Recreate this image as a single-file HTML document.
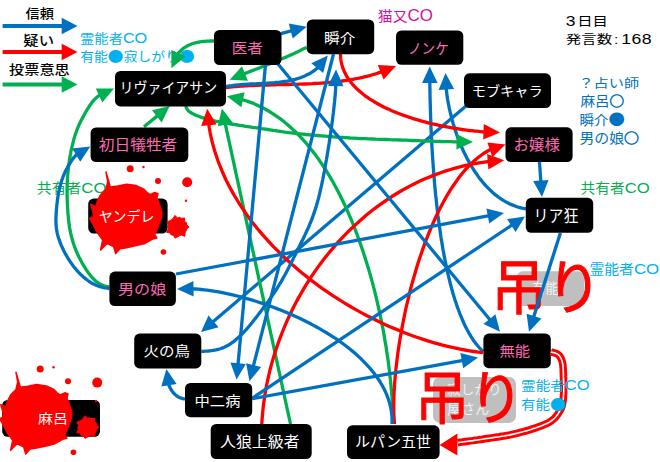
<!DOCTYPE html><html lang="ja"><head><meta charset="utf-8"><title>diagram</title><style>html,body{margin:0;padding:0;background:#fff}svg{display:block}text{font-family:"Liberation Sans","Noto Sans CJK JP",sans-serif}</style></head><body>
<svg width="660" height="462" viewBox="0 0 660 462">
<rect width="660" height="462" fill="#fff"/>
<text transform="translate(25.60,17.73) scale(0.8906,0.7879)" font-size="16" font-weight="500" fill="#000">信頼</text>
<text transform="translate(23.34,45.43) scale(0.9567,0.7879)" font-size="16" font-weight="500" fill="#000">疑い</text>
<text transform="translate(9.10,73.63) scale(0.9492,0.7879)" font-size="16" font-weight="500" fill="#000">投票意思</text>
<text transform="translate(80.11,42.63) scale(0.8919,0.7879)" font-size="16" font-weight="400" fill="#00B0F0">霊能者<tspan font-size="18.2">CO</tspan></text>
<text transform="translate(80.13,60.63) scale(0.8664,0.7879)" font-size="16" font-weight="400" fill="#00B0F0">有能<tspan font-family="Noto Sans CJK JP, sans-serif" font-size="18" dy="0.4">●</tspan><tspan dy="-0.4" font-size="1"> </tspan>寂しがり<tspan font-family="Noto Sans CJK JP, sans-serif" font-size="18" dy="0.4">●</tspan><tspan dy="-0.4" font-size="1"> </tspan></text>
<text transform="translate(377.77,21.36) scale(0.9310,0.8606)" font-size="16" font-weight="400" fill="#D010A0">猫又<tspan font-size="18.2">CO</tspan></text>
<text transform="translate(565.84,25.64) scale(0.9600,0.7806)" font-size="16" font-weight="400" fill="#000"><tspan font-size="18.3">3</tspan><tspan dx="1.6">日目</tspan></text>
<text transform="translate(565.83,43.88) scale(0.9678,0.7636)" font-size="16" font-weight="400" fill="#000">発言数<tspan dx="1.8">:</tspan><tspan dx="3" font-size="18.3" letter-spacing="0.4">168</tspan></text>
<text transform="translate(578.40,87.78) scale(0.9500,0.7636)" font-size="16" font-weight="400" fill="#0070C0">？占い師</text>
<text transform="translate(580.40,106.16) scale(0.9083,0.8182)" font-size="16" font-weight="400" fill="#0070C0">麻呂<tspan font-family="Noto Sans CJK JP, sans-serif" stroke="#0070C0" stroke-width="0.7">○</tspan></text>
<text transform="translate(579.49,124.92) scale(0.9083,0.8364)" font-size="16" font-weight="400" fill="#0070C0">瞬介<tspan font-family="Noto Sans CJK JP, sans-serif" font-size="18" dy="0.4">●</tspan><tspan dy="-0.4" font-size="1"> </tspan></text>
<text transform="translate(579.47,143.09) scale(0.9302,0.8485)" font-size="16" font-weight="400" fill="#0070C0">男の娘<tspan font-family="Noto Sans CJK JP, sans-serif" stroke="#0070C0" stroke-width="0.7">○</tspan></text>
<text transform="translate(36.87,192.59) scale(0.9270,0.8485)" font-size="16" font-weight="400" fill="#00B050">共有者<tspan font-size="18.2">CO</tspan></text>
<text transform="translate(580.48,193.09) scale(0.9216,0.8485)" font-size="16" font-weight="400" fill="#00B050">共有者<tspan font-size="18.2">CO</tspan></text>
<text transform="translate(589.47,274.13) scale(0.9270,0.8303)" font-size="16" font-weight="400" fill="#00B0F0">霊能者<tspan font-size="18.2">CO</tspan></text>
<rect x="516.8" y="271.3" width="67.4" height="34.7" rx="6" fill="#BFBFBF"/>
<rect x="433" y="376.9" width="83" height="46" rx="7" fill="#BFBFBF"/>
<text transform="translate(532.16,293.02) scale(0.8387,0.8788)" font-size="16" font-weight="400" fill="#F0F0F0">有能</text>
<text transform="translate(447.15,394.20) scale(0.8500,0.8000)" font-size="16" font-weight="400" fill="#F0F0F0">寂しがり</text>
<text transform="translate(447.12,414.30) scale(0.8804,0.8828)" font-size="16" font-weight="400" fill="#F0F0F0">屋さん</text>
<text transform="translate(491.43,308.61) scale(0.9817,1.0646)" font-size="56" font-weight="400" fill="#FF0000" stroke="#FF0000" stroke-width="1">吊り</text>
<text transform="translate(415.26,419.04) scale(0.9634,1.0404)" font-size="56" font-weight="400" fill="#FF0000" stroke="#FF0000" stroke-width="1">吊り</text>
<rect x="2.6" y="24" width="60" height="4" fill="#0070C0"/><polygon points="77.5,26 61.7,17.8 61.7,34.2" fill="#0070C0"/>
<rect x="2.6" y="50" width="60" height="4" fill="#FF0000"/><polygon points="77.5,52 61.7,43.8 61.7,60.2" fill="#FF0000"/>
<rect x="2.6" y="82.5" width="60" height="4" fill="#00B050"/><polygon points="77.5,84.5 61.7,76.3 61.7,92.7" fill="#00B050"/>
<g id="edges">
<polyline points="466.0,106.0 212.4,322.3" fill="none" stroke="#0070C0" stroke-width="3.3" stroke-linejoin="round"/><polygon points="201.0,332.0 208.5,315.4 218.6,327.2" fill="#0070C0"/>
<polyline points="526.0,208.8 524.0,208.5 522.1,208.1 520.1,207.6 518.2,207.1 516.3,206.5 514.5,205.8 512.6,205.1 510.8,204.4 509.0,203.5 507.2,202.6 505.5,201.7 503.8,200.7 502.1,199.6 500.4,198.5 498.7,197.3 497.1,196.1 495.5,194.9 493.9,193.6 492.4,192.2 490.9,190.8 489.4,189.4 487.9,187.9 486.4,186.4 485.0,184.8 483.6,183.2 482.2,181.5 480.9,179.9 479.5,178.2 478.2,176.4 477.0,174.6 475.7,172.8 474.5,171.0 473.3,169.1 472.1,167.2 470.9,165.3 469.8,163.4 468.7,161.4 467.6,159.4 466.6,157.4 465.5,155.4 464.5,153.3 463.5,151.2 462.6,149.2 461.7,147.1 460.8,145.0 459.9,142.8 459.0,140.7 458.2,138.6 457.4,136.4 456.6,134.3 455.9,132.1 455.2,130.0 454.5,127.8 453.8,125.6 453.1,123.5 452.5,121.3 451.9,119.1 451.4,117.0 450.8,114.8 450.3,112.7 449.8,110.5 449.3,108.4 448.9,106.3 448.5,104.2 448.1,102.1 447.7,100.0 447.4,97.9 447.1,95.9 446.8,93.8 446.6,91.8 446.3,89.8 446.2,88.0" fill="none" stroke="#0070C0" stroke-width="3.3" stroke-linejoin="round"/><polygon points="445.5,73.0 454.1,89.1 438.6,89.9" fill="#0070C0"/>
<polyline points="483.0,351.5 481.2,349.7 479.4,347.8 477.7,345.8 476.0,343.7 474.3,341.5 472.7,339.2 471.1,336.7 469.6,334.2 468.1,331.5 466.6,328.8 465.2,326.0 463.8,323.0 462.5,320.0 461.2,316.9 459.9,313.8 458.7,310.5 457.4,307.2 456.3,303.8 455.1,300.3 454.0,296.8 452.9,293.2 451.9,289.5 450.9,285.8 449.9,282.0 449.0,278.1 448.0,274.2 447.1,270.3 446.3,266.3 445.5,262.3 444.6,258.2 443.9,254.1 443.1,250.0 442.4,245.8 441.7,241.6 441.0,237.4 440.4,233.2 439.8,228.9 439.2,224.6 438.6,220.3 438.0,216.0 437.5,211.7 437.0,207.4 436.5,203.0 436.1,198.7 435.6,194.4 435.2,190.1 434.8,185.8 434.4,181.5 434.1,177.2 433.7,172.9 433.4,168.6 433.1,164.4 432.8,160.2 432.5,156.0 432.3,151.9 432.0,147.8 431.8,143.7 431.6,139.7 431.4,135.7 431.2,131.7 431.0,127.8 430.9,124.0 430.7,120.2 430.6,116.4 430.5,112.8 430.4,109.1 430.3,105.6 430.2,102.1 430.1,98.7 430.0,95.3 430.0,92.1 429.9,88.9 429.9,85.8 429.8,82.7 429.8,81.5" fill="none" stroke="#0070C0" stroke-width="3.3" stroke-linejoin="round"/><polygon points="429.7,66.5 437.6,82.9 422.1,83.1" fill="#0070C0"/>
<polyline points="214.0,41.0 213.2,41.0 212.4,41.0 211.6,41.0 210.8,41.0 210.1,41.0 209.3,41.1 208.5,41.1 207.8,41.1 207.0,41.2 206.3,41.2 205.5,41.3 204.8,41.3 204.1,41.4 203.3,41.5 202.6,41.5 201.9,41.6 201.2,41.7 200.5,41.8 199.8,41.9 199.1,42.0 198.5,42.2 197.8,42.3 197.1,42.4 196.5,42.6 195.8,42.7 195.2,42.9 194.5,43.1 193.9,43.2 193.3,43.4 192.7,43.6 192.1,43.8 191.4,44.1 190.9,44.3 190.3,44.5 189.7,44.8 189.1,45.0 188.5,45.3 188.0,45.6 187.4,45.9 186.9,46.1 186.3,46.5 185.8,46.8 185.3,47.1 184.8,47.4 184.2,47.8 183.7,48.2 183.2,48.5 182.8,48.9 182.3,49.3 181.8,49.7 181.3,50.1 180.9,50.6 180.4,51.0 180.0,51.5 179.6,51.9 179.1,52.4 178.7,52.9 178.3,53.4 177.9,54.0 177.5,54.5 177.5,54.6" fill="none" stroke="#00B050" stroke-width="3.3" stroke-linejoin="round"/><polygon points="171.4,68.2 171.4,50.0 185.4,56.6" fill="#00B050"/>
<polyline points="306.7,47.2 305.8,47.7 304.8,48.2 303.9,48.6 303.0,49.1 302.0,49.6 301.1,50.1 300.2,50.5 299.2,51.0 298.3,51.4 297.3,51.9 296.4,52.3 295.5,52.8 294.5,53.2 293.6,53.7 292.6,54.1 291.7,54.5 290.7,55.0 289.7,55.4 288.8,55.8 287.8,56.2 286.9,56.7 285.9,57.1 285.0,57.5 284.0,57.9 283.0,58.3 282.1,58.7 281.1,59.1 280.2,59.5 279.2,59.9 278.2,60.3 277.3,60.7 276.3,61.1 275.3,61.5 274.4,61.9 273.4,62.3 272.4,62.7 271.4,63.1 270.5,63.5 269.5,63.9 268.5,64.2 267.6,64.6 266.6,65.0 265.6,65.4 264.6,65.8 263.7,66.2 262.7,66.5 261.7,66.9 260.7,67.3 259.8,67.7 258.8,68.1 257.8,68.5 256.8,68.8 255.9,69.2 254.9,69.6 253.9,70.0 253.0,70.4 252.0,70.7 251.0,71.1 250.0,71.5 249.1,71.9 248.1,72.3 247.1,72.7 246.1,73.0 245.2,73.4 244.2,73.8 243.6,74.1" fill="none" stroke="#00B050" stroke-width="3.3" stroke-linejoin="round"/><polygon points="229.7,79.8 242.0,66.3 247.9,80.7" fill="#00B050"/>
<polyline points="393.3,424.0 393.2,420.1 393.1,416.1 392.9,412.0 392.7,407.8 392.4,403.6 392.2,399.2 391.8,394.8 391.4,390.3 391.0,385.8 390.6,381.1 390.0,376.4 389.5,371.7 388.9,366.9 388.3,362.0 387.6,357.1 386.8,352.1 386.1,347.1 385.2,342.0 384.4,337.0 383.5,331.8 382.5,326.7 381.5,321.5 380.4,316.3 379.3,311.1 378.1,305.9 376.9,300.6 375.7,295.4 374.4,290.1 373.0,284.9 371.6,279.6 370.1,274.4 368.6,269.1 367.0,263.9 365.4,258.7 363.7,253.5 362.0,248.4 360.2,243.2 358.4,238.1 356.5,233.0 354.6,228.0 352.6,223.0 350.5,218.0 348.4,213.1 346.2,208.2 344.0,203.4 341.7,198.7 339.4,194.0 337.0,189.4 334.5,184.8 332.0,180.3 329.4,175.9 326.8,171.6 324.1,167.3 321.3,163.2 318.5,159.1 315.6,155.1 312.6,151.2 309.6,147.4 306.6,143.7 303.4,140.2 300.2,136.7 297.0,133.3 293.6,130.1 290.2,127.0 286.8,124.0 283.3,121.1 279.7,118.4 276.0,115.8 272.3,113.3 268.5,111.0 264.6,108.8 260.7,106.8 256.7,104.9 252.7,103.1 248.5,101.6 244.3,100.2 241.5,99.3" fill="none" stroke="#00B050" stroke-width="3.3" stroke-linejoin="round"/><polygon points="226.8,96.2 244.6,92.2 241.3,107.3" fill="#00B050"/>
<polyline points="185.6,106.0 185.7,106.3 185.9,106.5 186.0,106.9 186.1,107.2 186.3,107.6 186.5,108.0 186.7,108.4 186.9,108.8 187.2,109.3 187.5,109.7 187.8,110.1 188.2,110.6 188.6,111.0 189.1,111.4 189.6,111.8 190.1,112.2 190.7,112.5 191.4,112.9 192.0,113.3 192.7,113.7 193.5,114.1 194.3,114.4 195.1,114.8 195.9,115.2 196.7,115.5 197.6,115.9 198.5,116.2 199.4,116.6 200.4,116.9 201.3,117.3 202.3,117.6 203.3,117.9 204.3,118.2 205.3,118.5 206.4,118.9 207.5,119.2 208.6,119.5 209.8,119.8 211.1,120.1 212.4,120.4 213.7,120.7 215.1,121.0 216.5,121.3 218.0,121.6 219.6,121.9 221.2,122.2 222.8,122.5 224.5,122.8 226.2,123.1 228.0,123.4 229.8,123.8 231.6,124.1 233.5,124.4 235.4,124.7 237.3,125.0 239.3,125.3 241.3,125.6 243.4,125.9 245.5,126.3 247.7,126.6 250.0,126.9 252.2,127.3 254.5,127.6 256.8,127.9 259.1,128.2 261.3,128.6 263.5,128.9 265.7,129.2 267.8,129.5 269.8,129.8 271.7,130.1 273.6,130.4 275.3,130.6 276.9,130.9 278.5,131.1 280.0,131.4 281.6,131.7 283.3,131.9 285.0,132.2 286.9,132.4 289.0,132.7 291.2,132.9 293.7,133.2 296.4,133.5 299.4,133.8 302.6,134.1 306.1,134.5 309.8,134.8 313.6,135.2 317.5,135.5 321.6,135.8 325.7,136.2 329.8,136.5 334.0,136.9 338.1,137.2 342.1,137.4 346.0,137.7 349.9,138.0 353.7,138.2 357.4,138.4 361.1,138.6 364.8,138.7 368.5,138.9 372.2,139.0 375.8,139.2 379.4,139.3 383.0,139.4 386.5,139.5 389.9,139.7 393.3,139.8 396.6,139.9 399.9,140.0 403.1,140.1 406.2,140.2 409.3,140.4 412.3,140.5 415.2,140.6 418.1,140.7 421.0,140.8 423.8,140.9 426.6,141.1 429.3,141.2 432.0,141.2 434.7,141.3 437.4,141.4 440.0,141.5 442.7,141.6 445.4,141.6 448.1,141.7 450.9,141.7 453.6,141.8 456.3,141.8 458.0,141.8" fill="none" stroke="#00B050" stroke-width="3.3" stroke-linejoin="round"/><polygon points="473.0,142.0 456.4,149.6 456.6,134.1" fill="#00B050"/>
<polyline points="290.5,424.0 225.1,123.2" fill="none" stroke="#00B050" stroke-width="3.3" stroke-linejoin="round"/><polygon points="221.9,108.5 233.0,123.0 217.8,126.3" fill="#00B050"/>
<polyline points="144.0,126.7 158.0,115.4" fill="none" stroke="#00B050" stroke-width="3.3" stroke-linejoin="round"/><polygon points="169.7,106.0 161.7,122.4 152.0,110.3" fill="#00B050"/>
<polyline points="109.4,287.0 108.6,286.9 107.8,286.7 107.0,286.5 106.1,286.3 105.3,286.1 104.4,285.9 103.5,285.6 102.6,285.2 101.6,284.8 100.6,284.4 99.7,283.8 98.7,283.2 97.7,282.5 96.6,281.8 95.6,280.9 94.6,280.0 93.6,279.0 92.5,277.9 91.5,276.7 90.5,275.5 89.5,274.2 88.5,272.9 87.5,271.5 86.5,270.1 85.6,268.7 84.7,267.2 83.7,265.8 82.9,264.3 82.0,262.8 81.2,261.3 80.4,259.8 79.6,258.3 78.8,256.8 78.1,255.3 77.4,253.7 76.8,252.2 76.1,250.7 75.5,249.1 74.9,247.6 74.3,246.0 73.8,244.5 73.3,242.9 72.8,241.3 72.3,239.8 71.9,238.2 71.5,236.6 71.1,235.0 70.7,233.3 70.4,231.7 70.0,230.0 69.7,228.2 69.4,226.5 69.2,224.7 68.9,222.8 68.7,220.9 68.5,218.9 68.3,216.9 68.1,214.9 67.9,212.8 67.8,210.6 67.6,208.5 67.5,206.3 67.4,204.1 67.3,202.0 67.2,199.8 67.2,197.7 67.1,195.7 67.1,193.6 67.1,191.7 67.1,189.8 67.1,188.0 67.1,186.3 67.2,184.6 67.2,183.0 67.3,181.4 67.4,179.9 67.4,178.4 67.5,177.0 67.6,175.6 67.8,174.2 67.9,172.9 68.0,171.5 68.2,170.2 68.3,168.8 68.5,167.5 68.6,166.1 68.8,164.7 69.0,163.4 69.2,162.0 69.4,160.6 69.6,159.2 69.8,157.8 70.1,156.4 70.3,155.0 70.6,153.6 70.8,152.2 71.1,150.8 71.4,149.4 71.7,148.0 72.0,146.6 72.4,145.2 72.7,143.8 73.1,142.4 73.4,141.0 73.8,139.6 74.2,138.3 74.6,136.9 75.0,135.6 75.4,134.3 75.8,133.0 76.3,131.8 76.7,130.6 77.2,129.4 77.6,128.2 78.1,127.1 78.6,126.0 79.0,124.9 79.5,123.8 80.0,122.8 80.5,121.7 81.0,120.7 81.6,119.7 82.1,118.7 82.6,117.7 83.2,116.7 83.7,115.7 84.3,114.7 84.8,113.7 85.4,112.7 86.0,111.7 86.6,110.7 87.2,109.7 87.8,108.7 88.3,107.8 88.9,106.9 89.5,105.9 90.1,105.1 90.7,104.2 91.3,103.4 91.9,102.6 92.5,101.8 93.1,101.1 93.7,100.4 94.3,99.7 94.9,99.0 95.6,98.4 96.2,97.8 96.9,97.2 97.5,96.7 98.2,96.1 99.0,95.6 99.7,95.1 100.3,94.7" fill="none" stroke="#00B050" stroke-width="3.3" stroke-linejoin="round"/><polygon points="114.0,88.6 102.3,102.6 95.8,88.5" fill="#00B050"/>
<polyline points="225.7,87.5 227.8,87.3 229.9,87.1 232.1,86.9 234.2,86.7 236.3,86.5 238.5,86.3 240.6,86.2 242.7,86.0 244.9,85.9 247.0,85.8 249.2,85.7 251.3,85.6 253.5,85.5 255.7,85.4 257.8,85.3 260.0,85.2 262.2,85.1 264.3,85.1 266.5,85.0 268.7,85.0 270.8,84.9 273.0,84.8 275.2,84.8 277.4,84.7 279.5,84.7 281.7,84.6 283.9,84.6 286.1,84.5 288.2,84.5 290.4,84.4 292.6,84.4 294.8,84.3 297.0,84.3 299.1,84.2 301.3,84.1 303.5,84.0 305.7,84.0 307.8,83.9 310.0,83.8 312.2,83.7 314.3,83.5 316.5,83.4 318.7,83.3 320.8,83.1 323.0,83.0 325.1,82.8 327.3,82.6 329.4,82.4 331.6,82.2 333.7,82.0 335.9,81.8 338.0,81.5 340.2,81.3 342.3,81.0 344.4,80.7 346.6,80.4 348.7,80.0 350.8,79.7 352.9,79.3 355.0,78.9 357.1,78.5 359.2,78.1 361.3,77.6 363.4,77.1 365.5,76.6 367.6,76.1 369.6,75.6 371.7,75.0 373.8,74.4 375.8,73.8 377.9,73.1 379.9,72.4 381.9,71.7 382.1,71.7" fill="none" stroke="#FF0000" stroke-width="3.3" stroke-linejoin="round"/><polygon points="396.0,66.0 383.6,79.4 377.8,65.0" fill="#FF0000"/>
<polyline points="340.5,54.0 340.6,56.2 340.7,58.4 341.0,60.5 341.4,62.6 341.9,64.7 342.5,66.7 343.1,68.7 343.9,70.6 344.8,72.5 345.7,74.4 346.8,76.3 347.9,78.1 349.1,79.8 350.4,81.6 351.7,83.3 353.1,85.0 354.7,86.6 356.2,88.2 357.9,89.8 359.6,91.3 361.4,92.8 363.2,94.3 365.1,95.8 367.1,97.2 369.1,98.6 371.2,99.9 373.3,101.2 375.4,102.5 377.7,103.8 379.9,105.0 382.2,106.2 384.6,107.4 386.9,108.5 389.3,109.6 391.8,110.7 394.3,111.7 396.8,112.7 399.3,113.7 401.9,114.7 404.4,115.6 407.0,116.5 409.6,117.4 412.3,118.3 414.9,119.1 417.6,119.9 420.2,120.7 422.9,121.4 425.6,122.1 428.3,122.8 430.9,123.5 433.6,124.1 436.3,124.7 438.9,125.3 441.6,125.9 444.2,126.4 446.9,126.9 449.5,127.4 452.1,127.9 454.6,128.3 457.2,128.7 459.7,129.1 462.2,129.5 464.7,129.8 467.1,130.2 469.5,130.5 471.9,130.7 474.2,131.0 476.5,131.2 478.7,131.4 480.9,131.6 483.1,131.8 485.0,131.9" fill="none" stroke="#FF0000" stroke-width="3.3" stroke-linejoin="round"/><polygon points="500.0,132.4 483.2,139.6 483.8,124.1" fill="#FF0000"/>
<polyline points="483.0,352.7 478.5,352.2 474.0,351.5 469.5,350.8 464.9,350.0 460.3,349.1 455.7,348.2 451.1,347.2 446.5,346.1 441.8,344.9 437.2,343.6 432.5,342.3 427.8,340.9 423.2,339.4 418.5,337.8 413.8,336.2 409.1,334.5 404.5,332.7 399.8,330.8 395.2,328.9 390.5,326.9 385.9,324.9 381.3,322.7 376.7,320.5 372.1,318.3 367.5,316.0 363.0,313.6 358.5,311.1 354.0,308.6 349.5,306.0 345.1,303.4 340.7,300.7 336.4,297.9 332.0,295.1 327.7,292.2 323.5,289.3 319.3,286.3 315.1,283.2 311.0,280.1 307.0,276.9 303.0,273.7 299.0,270.5 295.1,267.1 291.2,263.7 287.4,260.3 283.7,256.8 280.1,253.3 276.5,249.7 272.9,246.1 269.5,242.4 266.1,238.7 262.7,234.9 259.5,231.1 256.3,227.3 253.2,223.4 250.2,219.4 247.3,215.4 244.5,211.4 241.7,207.3 239.0,203.2 236.5,199.0 234.0,194.9 231.6,190.6 229.3,186.4 227.1,182.1 225.0,177.7 223.0,173.3 221.2,168.9 219.4,164.5 217.7,160.0 216.2,155.5 214.7,151.0 213.4,146.4 212.2,141.8 211.1,137.2 210.1,132.5 209.3,127.8 208.7,123.7" fill="none" stroke="#FF0000" stroke-width="3.3" stroke-linejoin="round"/><polygon points="207.2,108.8 216.6,124.4 201.2,126.0" fill="#FF0000"/>
<polyline points="261.8,424.0 262.1,419.1 262.5,414.3 263.0,409.4 263.5,404.6 264.2,399.7 264.9,394.9 265.7,390.1 266.6,385.3 267.6,380.5 268.7,375.7 269.8,370.9 271.0,366.2 272.3,361.4 273.7,356.7 275.2,352.0 276.7,347.4 278.3,342.7 280.0,338.1 281.8,333.5 283.6,329.0 285.5,324.4 287.5,319.9 289.5,315.5 291.7,311.0 293.9,306.6 296.1,302.3 298.5,297.9 300.9,293.7 303.4,289.4 305.9,285.2 308.5,281.1 311.2,276.9 313.9,272.9 316.7,268.9 319.6,264.9 322.5,261.0 325.5,257.1 328.6,253.3 331.7,249.6 334.9,245.9 338.1,242.2 341.4,238.6 344.8,235.1 348.2,231.7 351.7,228.3 355.2,224.9 358.8,221.7 362.5,218.5 366.1,215.3 369.9,212.3 373.7,209.3 377.6,206.4 381.5,203.6 385.4,200.8 389.4,198.1 393.5,195.5 397.6,193.0 401.8,190.5 406.0,188.2 410.2,185.9 414.5,183.7 418.9,181.6 423.3,179.6 427.7,177.7 432.2,175.9 436.7,174.1 441.3,172.5 445.9,170.9 450.5,169.5 455.2,168.1 460.0,166.9 464.7,165.7 469.5,164.7 474.4,163.7 479.3,162.9 484.2,162.1 489.1,161.5 489.3,161.5" fill="none" stroke="#FF0000" stroke-width="3.3" stroke-linejoin="round"/><polygon points="504.2,160.3 488.4,169.4 487.1,154.0" fill="#FF0000"/>
<polyline points="394.5,424.0 394.3,421.2 394.1,418.3 393.9,415.3 393.8,412.2 393.8,409.0 393.8,405.7 393.8,402.3 393.9,398.8 394.0,395.3 394.1,391.6 394.4,387.9 394.6,384.1 394.9,380.2 395.2,376.3 395.6,372.3 396.0,368.3 396.5,364.1 397.0,360.0 397.5,355.8 398.1,351.5 398.7,347.2 399.4,342.9 400.1,338.5 400.9,334.1 401.7,329.6 402.5,325.2 403.4,320.7 404.3,316.2 405.2,311.7 406.2,307.1 407.3,302.6 408.4,298.1 409.5,293.5 410.6,289.0 411.8,284.5 413.1,280.0 414.4,275.5 415.7,271.0 417.0,266.5 418.4,262.1 419.9,257.6 421.4,253.3 422.9,248.9 424.4,244.6 426.0,240.3 427.7,236.1 429.3,231.9 431.1,227.8 432.8,223.7 434.6,219.7 436.4,215.8 438.3,211.9 440.2,208.1 442.1,204.4 444.1,200.7 446.1,197.1 448.2,193.6 450.3,190.2 452.4,186.9 454.6,183.7 456.8,180.6 459.0,177.6 461.3,174.6 463.6,171.8 465.9,169.1 468.3,166.6 470.8,164.1 473.2,161.8 475.7,159.5 478.2,157.5 480.8,155.5 483.4,153.7 486.0,152.0 488.7,150.5 491.3,149.2" fill="none" stroke="#FF0000" stroke-width="3.3" stroke-linejoin="round"/><polygon points="505.5,144.5 492.4,157.2 487.4,142.5" fill="#FF0000"/>
<polyline points="280.8,33.6 292.2,30.6" fill="none" stroke="#0070C0" stroke-width="3.3" stroke-linejoin="round"/><polygon points="306.7,26.8 292.7,38.5 288.8,23.5" fill="#0070C0"/>
<polyline points="225.7,86.7 227.0,86.4 228.3,86.2 229.6,86.0 230.9,85.8 232.2,85.6 233.5,85.4 234.9,85.2 236.2,85.1 237.6,84.9 239.0,84.8 240.4,84.7 241.7,84.6 243.1,84.5 244.5,84.4 245.9,84.3 247.3,84.2 248.8,84.1 250.2,84.0 251.6,84.0 253.0,83.9 254.4,83.8 255.9,83.8 257.3,83.7 258.7,83.6 260.2,83.6 261.6,83.5 263.1,83.4 264.5,83.4 265.9,83.3 267.4,83.2 268.8,83.1 270.2,83.0 271.7,82.9 273.1,82.8 274.5,82.7 275.9,82.5 277.4,82.4 278.8,82.3 280.2,82.1 281.6,81.9 283.0,81.7 284.4,81.5 285.7,81.3 287.1,81.1 288.5,80.8 289.8,80.6 291.2,80.3 292.5,80.0 293.8,79.6 295.2,79.3 296.5,78.9 297.8,78.5 299.1,78.1 300.3,77.7 301.6,77.2 302.9,76.7 304.1,76.2 305.3,75.7 306.5,75.1 307.7,74.5 308.9,73.9 310.1,73.3 311.2,72.6 312.3,71.9 313.4,71.1 314.5,70.3 315.6,69.5 316.7,68.7 317.7,67.8 318.4,67.1" fill="none" stroke="#0070C0" stroke-width="3.3" stroke-linejoin="round"/><polygon points="327.8,55.5 323.2,73.1 311.3,63.2" fill="#0070C0"/>
<polyline points="201.3,351.5 202.6,351.4 203.9,351.3 205.3,351.2 206.7,351.1 208.2,351.0 209.7,350.8 211.3,350.6 212.9,350.4 214.5,350.1 216.2,349.8 217.8,349.4 219.5,349.0 221.1,348.5 222.6,347.9 224.2,347.3 225.7,346.6 227.1,345.8 228.6,345.0 230.0,344.1 231.4,343.2 232.8,342.2 234.2,341.1 235.6,340.0 236.9,338.8 238.3,337.6 239.7,336.3 241.1,335.0 242.4,333.6 243.8,332.1 245.2,330.6 246.6,329.1 248.0,327.5 249.4,325.9 250.8,324.2 252.2,322.5 253.5,320.8 254.9,319.0 256.3,317.2 257.7,315.4 259.0,313.6 260.4,311.9 261.7,310.1 263.1,308.3 264.4,306.5 265.8,304.7 267.1,302.9 268.4,301.1 269.7,299.2 271.0,297.4 272.3,295.5 273.6,293.6 274.9,291.7 276.1,289.8 277.4,287.8 278.7,285.7 279.9,283.7 281.2,281.6 282.4,279.4 283.6,277.2 284.9,275.0 286.1,272.7 287.3,270.4 288.5,268.1 289.7,265.7 290.9,263.3 292.2,260.9 293.4,258.4 294.6,255.9 295.9,253.4 297.1,250.9 298.4,248.3 299.7,245.7 301.0,243.1 302.3,240.5 303.6,237.8 304.9,235.1 306.2,232.3 307.5,229.5 308.8,226.7 310.0,223.7 311.2,220.8 312.4,217.7 313.5,214.6 314.6,211.4 315.7,208.1 316.7,204.7 317.7,201.3 318.6,197.8 319.5,194.2 320.3,190.6 321.2,186.9 322.0,183.1 322.8,179.3 323.5,175.5 324.3,171.5 325.0,167.5 325.7,163.5 326.5,159.3 327.2,155.1 327.9,150.9 328.6,146.6 329.3,142.2 329.9,137.8 330.6,133.4 331.2,129.1 331.8,124.8 332.4,120.5 332.9,116.4 333.4,112.5 333.8,108.6 334.2,105.0 334.6,101.5 334.9,98.2 335.2,95.1 335.4,92.2 335.6,89.5 335.7,86.9 335.8,84.6" fill="none" stroke="#0070C0" stroke-width="3.3" stroke-linejoin="round"/><polygon points="336.0,69.6 343.5,86.2 328.0,86.0" fill="#0070C0"/>
<polyline points="265.5,64.5 238.0,364.7" fill="none" stroke="#0070C0" stroke-width="3.3" stroke-linejoin="round"/><polygon points="236.6,379.6 230.4,362.5 245.8,363.9" fill="#0070C0"/>
<polyline points="333.5,54.0 253.2,366.7" fill="none" stroke="#0070C0" stroke-width="3.3" stroke-linejoin="round"/><polygon points="249.5,381.2 246.1,363.3 261.1,367.1" fill="#0070C0"/>
<polyline points="278.0,64.0 490.4,320.3" fill="none" stroke="#0070C0" stroke-width="3.3" stroke-linejoin="round"/><polygon points="500.0,331.8 483.5,324.0 495.4,314.2" fill="#0070C0"/>
<polyline points="539.4,161.0 540.9,182.0" fill="none" stroke="#0070C0" stroke-width="3.3" stroke-linejoin="round"/><polygon points="542.0,197.0 533.1,181.1 548.5,180.0" fill="#0070C0"/>
<polyline points="560.4,233.0 533.5,317.5" fill="none" stroke="#0070C0" stroke-width="3.3" stroke-linejoin="round"/><polygon points="529.0,331.8 526.6,313.7 541.4,318.4" fill="#0070C0"/>
<polyline points="176.0,274.0 489.3,215.7" fill="none" stroke="#0070C0" stroke-width="3.3" stroke-linejoin="round"/><polygon points="504.0,213.0 489.2,223.6 486.4,208.4" fill="#0070C0"/>
<polyline points="392.0,424.0 392.1,420.9 392.0,417.8 391.8,414.7 391.4,411.6 390.9,408.6 390.2,405.6 389.5,402.7 388.6,399.7 387.5,396.8 386.4,393.9 385.1,391.1 383.7,388.3 382.2,385.5 380.6,382.7 378.9,380.0 377.0,377.3 375.1,374.6 373.1,372.0 370.9,369.4 368.7,366.8 366.4,364.3 364.0,361.8 361.5,359.3 358.9,356.9 356.3,354.5 353.6,352.1 350.8,349.8 347.9,347.5 345.0,345.3 342.0,343.0 338.9,340.9 335.8,338.7 332.6,336.6 329.4,334.6 326.1,332.5 322.8,330.6 319.5,328.6 316.1,326.7 312.6,324.9 309.2,323.0 305.7,321.3 302.1,319.5 298.6,317.8 295.0,316.2 291.4,314.6 287.8,313.0 284.2,311.5 280.5,310.0 276.9,308.6 273.3,307.2 269.6,305.9 266.0,304.6 262.3,303.4 258.7,302.2 255.1,301.0 251.5,299.9 247.9,298.9 244.3,297.9 240.8,296.9 237.3,296.0 233.8,295.1 230.3,294.3 226.9,293.6 223.5,292.9 220.2,292.2 216.9,291.6 213.6,291.1 210.4,290.6 207.3,290.2 204.2,289.8 201.2,289.5 198.2,289.2 195.3,289.0 192.4,288.8 192.0,288.8" fill="none" stroke="#0070C0" stroke-width="3.3" stroke-linejoin="round"/><polygon points="177.0,289.0 193.4,281.1 193.6,296.6" fill="#0070C0"/>
<polyline points="109.4,288.6 108.3,288.4 107.2,288.2 106.1,288.0 104.9,287.8 103.7,287.6 102.5,287.3 101.3,287.0 100.0,286.6 98.7,286.2 97.4,285.7 96.1,285.2 94.7,284.6 93.4,283.9 92.0,283.2 90.6,282.4 89.2,281.5 87.8,280.5 86.5,279.5 85.1,278.4 83.7,277.3 82.4,276.0 81.0,274.8 79.7,273.4 78.4,272.1 77.1,270.7 75.9,269.2 74.6,267.7 73.4,266.2 72.3,264.6 71.1,263.0 70.0,261.4 69.0,259.8 67.9,258.1 67.0,256.5 66.0,254.8 65.1,253.2 64.2,251.5 63.4,249.9 62.6,248.3 61.9,246.7 61.2,245.1 60.6,243.6 60.0,242.1 59.5,240.6 59.0,239.2 58.5,237.8 58.1,236.5 57.7,235.1 57.4,233.8 57.1,232.5 56.9,231.2 56.7,230.0 56.5,228.7 56.3,227.5 56.2,226.2 56.1,225.0 56.0,223.7 56.0,222.5 55.9,221.3 55.9,220.1 55.9,218.8 56.0,217.6 56.0,216.4 56.1,215.2 56.1,214.0 56.2,212.8 56.3,211.6 56.4,210.4 56.5,209.2 56.6,208.1 56.7,206.9 56.8,205.8 56.9,204.6 57.0,203.5 57.2,202.4 57.3,201.2 57.4,200.1 57.6,199.0 57.8,197.8 57.9,196.7 58.1,195.5 58.3,194.4 58.5,193.2 58.8,192.0 59.0,190.8 59.3,189.6 59.5,188.4 59.8,187.2 60.1,186.0 60.5,184.7 60.8,183.5 61.2,182.3 61.6,181.0 61.9,179.8 62.4,178.6 62.8,177.5 63.2,176.3 63.7,175.1 64.2,174.0 64.7,172.9 65.2,171.8 65.7,170.8 66.2,169.8 66.7,168.8 67.3,167.8 67.8,166.8 68.3,165.9 68.8,165.0 69.4,164.2 69.9,163.3 70.4,162.6 70.8,161.8 71.3,161.1 71.8,160.4 72.2,159.7 72.6,159.1 73.1,158.5 73.5,157.9 74.0,157.3 74.5,156.8 75.0,156.3 75.5,155.7 76.1,155.2 76.7,154.7 77.3,154.1 77.3,154.1" fill="none" stroke="#0070C0" stroke-width="3.3" stroke-linejoin="round"/><polygon points="90.3,146.6 80.2,161.7 72.2,148.5" fill="#0070C0"/>
<polyline points="185.5,399.0 185.0,399.0 184.5,398.9 184.0,398.8 183.5,398.8 183.0,398.7 182.5,398.6 182.0,398.4 181.5,398.3 181.1,398.1 180.6,398.0 180.2,397.8 179.7,397.6 179.3,397.4 178.9,397.2 178.4,397.0 178.0,396.7 177.6,396.5 177.2,396.2 176.8,395.9 176.4,395.6 176.1,395.3 175.7,395.0 175.3,394.7 175.0,394.4 174.6,394.1 174.3,393.7 174.0,393.4 173.6,393.0 173.3,392.6 173.0,392.3 172.7,391.9 172.4,391.5 172.1,391.1 171.8,390.7 171.5,390.3 171.3,389.8 171.0,389.4 170.8,389.0 170.5,388.5 170.3,388.1 170.0,387.7 169.8,387.2 169.6,386.7 169.4,386.3 169.2,385.8 169.0,385.3 168.8,384.9 168.6,384.4 168.4,383.9 168.4,383.8" fill="none" stroke="#0070C0" stroke-width="3.3" stroke-linejoin="round"/><polygon points="166.4,369.0 176.6,384.1 161.3,386.5" fill="#0070C0"/>
<polyline points="252.2,398.3 512.5,224.7" fill="none" stroke="#0070C0" stroke-width="3.3" stroke-linejoin="round"/><polygon points="525.0,216.4 515.6,232.0 507.0,219.1" fill="#0070C0"/>
<polyline points="252.2,398.7 463.2,360.3" fill="none" stroke="#0070C0" stroke-width="3.3" stroke-linejoin="round"/><polygon points="478.0,357.6 463.2,368.2 460.4,352.9" fill="#0070C0"/>
</g>
<g id="nodes">
<rect x="115" y="71" width="111.0" height="35.4" rx="5.5" fill="#000"/>
<rect x="214" y="30" width="67.5" height="35.0" rx="5.5" fill="#000"/>
<rect x="306.8" y="19.5" width="67.4" height="34.7" rx="5.5" fill="#000"/>
<rect x="396" y="30.5" width="67.3" height="34.3" rx="5.5" fill="#000"/>
<rect x="464" y="73.3" width="87.0" height="34.7" rx="5.5" fill="#000"/>
<rect x="505.5" y="127.3" width="67.1" height="34.7" rx="5.5" fill="#000"/>
<rect x="525.8" y="197.8" width="67.4" height="35.0" rx="5.5" fill="#000"/>
<rect x="483.4" y="333.6" width="67.4" height="34.6" rx="5.5" fill="#000"/>
<rect x="347" y="425.3" width="92.6" height="33.7" rx="5.5" fill="#000"/>
<rect x="210.7" y="424" width="101.0" height="35.0" rx="5.5" fill="#000"/>
<rect x="185" y="383" width="67.2" height="34.2" rx="5.5" fill="#000"/>
<rect x="134.2" y="333.6" width="67.1" height="34.8" rx="5.5" fill="#000"/>
<rect x="109.4" y="271.6" width="66.5" height="34.4" rx="5.5" fill="#000"/>
<rect x="90.6" y="127.4" width="97.7" height="34.6" rx="5.5" fill="#000"/>
<rect x="88.2" y="198.6" width="79.4" height="35.0" rx="5.5" fill="#000"/>
<rect x="2.2" y="400" width="97.8" height="36.8" rx="5.5" fill="#000"/>
</g>
<path d="M550.8,352.0 L551.1,352.1 L551.5,352.2 L552.0,352.3 L552.5,352.4 L553.0,352.5 L553.6,352.7 L554.2,352.8 L554.9,353.0 L555.5,353.2 L556.1,353.4 L556.7,353.7 L557.3,354.0 L557.8,354.3 L558.2,354.6 L558.6,355.0 L559.0,355.4 L559.4,355.8 L559.7,356.2 L560.0,356.7 L560.3,357.1 L560.6,357.7 L560.9,358.2 L561.2,358.7 L561.4,359.3 L561.7,360.0 L561.9,360.6 L562.1,361.3 L562.3,362.0 L562.5,362.7 L562.6,363.5 L562.8,364.3 L562.9,365.0 L563.0,365.9 L563.0,366.7 L563.1,367.6 L563.2,368.5 L563.2,369.5 L563.3,370.5 L563.3,371.5 L563.3,372.6 L563.4,373.8 L563.4,375.0 L563.4,376.3 L563.5,377.7 L563.5,379.3 L563.6,380.9 L563.6,382.5 L563.7,384.2 L563.7,385.9 L563.7,387.7 L563.7,389.4 L563.7,391.0 L563.7,392.7 L563.6,394.2 L563.5,395.7 L563.4,397.0 L563.3,398.2 L563.2,399.4 L563.0,400.5 L562.9,401.6 L562.8,402.6 L562.6,403.6 L562.4,404.5 L562.2,405.4 L561.9,406.3 L561.6,407.2 L561.3,408.1 L560.9,409.0 L560.4,409.9 L559.9,410.8 L559.3,411.7 L558.8,412.6 L558.2,413.6 L557.6,414.5 L557.0,415.3 L556.3,416.2 L555.6,417.1 L554.8,418.0 L553.9,418.8 L552.9,419.7 L551.8,420.5 L550.6,421.4 L549.3,422.2 L547.8,423.0 L546.2,423.8 L544.3,424.6 L542.3,425.4 L540.2,426.3 L538.0,427.1 L535.7,427.9 L533.3,428.6 L530.9,429.4 L528.4,430.2 L526.0,430.9 L523.5,431.6 L521.1,432.2 L518.8,432.8 L516.6,433.4 L514.4,433.9 L512.3,434.4 L510.1,434.9 L508.0,435.3 L505.9,435.6 L503.8,436.0 L501.7,436.3 L499.6,436.7 L497.5,437.0 L495.4,437.3 L493.3,437.6 L491.2,437.9 L489.1,438.2 L487.0,438.5 L484.8,438.8 L482.5,439.2 L480.2,439.5 L477.8,439.9 L475.3,440.2 L472.9,440.6 L470.5,440.9 L468.2,441.2 L466.0,441.5 L463.9,441.8 L462.0,442.1 L460.3,442.3 L458.9,442.5 L457.7,442.7" fill="none" stroke="#FF0000" stroke-width="7.5"/>
<path d="M550.8,352.0 L551.1,352.1 L551.5,352.2 L552.0,352.3 L552.5,352.4 L553.0,352.5 L553.6,352.7 L554.2,352.8 L554.9,353.0 L555.5,353.2 L556.1,353.4 L556.7,353.7 L557.3,354.0 L557.8,354.3 L558.2,354.6 L558.6,355.0 L559.0,355.4 L559.4,355.8 L559.7,356.2 L560.0,356.7 L560.3,357.1 L560.6,357.7 L560.9,358.2 L561.2,358.7 L561.4,359.3 L561.7,360.0 L561.9,360.6 L562.1,361.3 L562.3,362.0 L562.5,362.7 L562.6,363.5 L562.8,364.3 L562.9,365.0 L563.0,365.9 L563.0,366.7 L563.1,367.6 L563.2,368.5 L563.2,369.5 L563.3,370.5 L563.3,371.5 L563.3,372.6 L563.4,373.8 L563.4,375.0 L563.4,376.3 L563.5,377.7 L563.5,379.3 L563.6,380.9 L563.6,382.5 L563.7,384.2 L563.7,385.9 L563.7,387.7 L563.7,389.4 L563.7,391.0 L563.7,392.7 L563.6,394.2 L563.5,395.7 L563.4,397.0 L563.3,398.2 L563.2,399.4 L563.0,400.5 L562.9,401.6 L562.8,402.6 L562.6,403.6 L562.4,404.5 L562.2,405.4 L561.9,406.3 L561.6,407.2 L561.3,408.1 L560.9,409.0 L560.4,409.9 L559.9,410.8 L559.3,411.7 L558.8,412.6 L558.2,413.6 L557.6,414.5 L557.0,415.3 L556.3,416.2 L555.6,417.1 L554.8,418.0 L553.9,418.8 L552.9,419.7 L551.8,420.5 L550.6,421.4 L549.3,422.2 L547.8,423.0 L546.2,423.8 L544.3,424.6 L542.3,425.4 L540.2,426.3 L538.0,427.1 L535.7,427.9 L533.3,428.6 L530.9,429.4 L528.4,430.2 L526.0,430.9 L523.5,431.6 L521.1,432.2 L518.8,432.8 L516.6,433.4 L514.4,433.9 L512.3,434.4 L510.1,434.9 L508.0,435.3 L505.9,435.6 L503.8,436.0 L501.7,436.3 L499.6,436.7 L497.5,437.0 L495.4,437.3 L493.3,437.6 L491.2,437.9 L489.1,438.2 L487.0,438.5 L484.8,438.8 L482.5,439.2 L480.2,439.5 L477.8,439.9 L475.3,440.2 L472.9,440.6 L470.5,440.9 L468.2,441.2 L466.0,441.5 L463.9,441.8 L462.0,442.1 L460.3,442.3 L458.9,442.5 L457.7,442.7" fill="none" stroke="#fff" stroke-width="1.6"/>
<polygon points="439.6,445 457.4,433.5 457.4,455.5" fill="#FF0000"/>
<text transform="translate(521.09,389.87) scale(0.9095,0.8121)" font-size="16" font-weight="400" fill="#00B0F0">霊能者<tspan font-size="18.2">CO</tspan></text>
<text transform="translate(521.09,409.17) scale(0.9083,0.8121)" font-size="16" font-weight="400" fill="#00B0F0">有能<tspan font-family="Noto Sans CJK JP, sans-serif" font-size="18" dy="0.4">●</tspan><tspan dy="-0.4" font-size="1"> </tspan></text>
<polygon points="106.0,172.0 110.3,187.0 117.9,186.0 126.6,184.3 136.3,185.6 143.9,189.2 147.1,192.5 150.4,194.7 154.7,192.5 158.0,193.6 156.9,197.9 159.0,203.3 161.9,212.0 161.2,218.5 158.0,227.1 154.7,234.7 156.9,238.0 152.6,239.0 145.0,243.4 136.3,245.6 126.6,247.7 120.0,248.8 115.7,253.6 113.6,246.6 107.0,243.4 100.6,249.9 102.7,240.0 97.3,232.6 93.4,225.0 89.7,218.5 94.0,216.3 93.0,212.0 90.8,204.4 96.2,206.6 97.3,201.2 100.6,194.7 106.0,189.2 107.7,181.7" fill="#FF0000" stroke="#FF0000" stroke-width="1.5" stroke-linejoin="round"/><polygon points="188.9,227.0 186.8,229.1 185.9,231.1 185.0,233.0 184.9,236.3 181.4,235.1 179.5,235.7 177.5,236.9 175.0,238.1 173.5,235.3 171.2,234.9 170.1,232.9 166.6,232.3 168.3,229.1 167.8,227.0 168.6,225.0 166.8,221.9 169.7,220.8 171.6,219.6 173.3,218.2 174.9,215.4 177.5,218.0 179.7,217.4 181.7,218.3 184.6,218.0 184.5,221.4 186.5,222.7 186.7,224.9" fill="#FF0000" stroke="#FF0000" stroke-width="1" stroke-linejoin="round"/><circle cx="130.2" cy="168.7" r="3.5" fill="#FF0000"/><circle cx="143.5" cy="167.0" r="1.2" fill="#FF0000"/><circle cx="158.0" cy="181.0" r="3" fill="#FF0000"/><circle cx="187.2" cy="182.3" r="5" fill="#FF0000"/><circle cx="186.0" cy="200.7" r="1.2" fill="#FF0000"/><circle cx="163.4" cy="252.0" r="2.8" fill="#FF0000"/>
<polygon points="16.0,372.3 20.3,387.3 27.9,386.3 36.6,384.6 46.3,385.9 53.9,389.5 57.1,392.8 60.4,395.0 64.7,392.8 68.0,393.9 66.9,398.2 69.0,403.6 71.9,412.3 71.2,418.8 68.0,427.4 64.7,435.0 66.9,438.3 62.6,439.3 55.0,443.7 46.3,445.9 36.6,448.0 30.0,449.1 25.7,453.9 23.6,446.9 17.0,443.7 10.6,450.2 12.7,440.3 7.3,432.9 3.4,425.3 -0.3,418.8 4.0,416.6 3.0,412.3 0.8,404.7 6.2,406.9 7.3,401.5 10.6,395.0 16.0,389.5 17.7,382.0" fill="#FF0000" stroke="#FF0000" stroke-width="1.5" stroke-linejoin="round"/><polygon points="98.9,427.3 96.8,429.4 95.9,431.4 95.0,433.3 94.9,436.6 91.4,435.4 89.5,436.0 87.5,437.2 85.0,438.4 83.5,435.6 81.2,435.2 80.1,433.2 76.6,432.6 78.3,429.4 77.8,427.3 78.6,425.3 76.8,422.2 79.7,421.1 81.6,419.9 83.3,418.5 84.9,415.7 87.5,418.3 89.7,417.7 91.7,418.6 94.6,418.3 94.5,421.7 96.5,423.0 96.7,425.2" fill="#FF0000" stroke="#FF0000" stroke-width="1" stroke-linejoin="round"/><circle cx="40.2" cy="369.0" r="3.5" fill="#FF0000"/><circle cx="53.5" cy="367.3" r="1.2" fill="#FF0000"/><circle cx="68.0" cy="381.3" r="3" fill="#FF0000"/><circle cx="97.2" cy="382.6" r="5" fill="#FF0000"/><circle cx="96.0" cy="401.0" r="1.2" fill="#FF0000"/><circle cx="73.4" cy="452.3" r="2.8" fill="#FF0000"/>
<text transform="translate(119.51,93.35) scale(0.8729,0.9091)" font-size="16" font-weight="400" fill="#fff">リヴァイアサン</text>
<text transform="translate(231.72,53.44) scale(0.9767,0.8727)" font-size="16" font-weight="400" fill="#FF69B4">医者</text>
<text transform="translate(324.02,43.02) scale(0.9833,0.8788)" font-size="16" font-weight="400" fill="#fff">瞬介</text>
<text transform="translate(407.94,53.65) scale(0.8523,0.9172)" font-size="16" font-weight="400" fill="#FF69B4">ノンケ</text>
<text transform="translate(471.72,96.35) scale(0.8882,0.8667)" font-size="16" font-weight="400" fill="#fff">モブキャラ</text>
<text transform="translate(513.57,150.25) scale(0.9674,0.9091)" font-size="16" font-weight="400" fill="#FF69B4">お嬢様</text>
<text transform="translate(533.55,221.91) scale(0.9372,1.0345)" font-size="16" font-weight="400" fill="#fff">リア狂</text>
<text transform="translate(499.45,356.30) scale(0.9548,0.8424)" font-size="16" font-weight="400" fill="#FF69B4">無能</text>
<text transform="translate(355.06,447.00) scale(0.9418,0.8909)" font-size="16" font-weight="400" fill="#fff">ルパン五世</text>
<text transform="translate(220.00,447.43) scale(0.9962,0.9212)" font-size="16" font-weight="400" fill="#fff">人狼上級者</text>
<text transform="translate(194.54,405.75) scale(0.9574,0.8667)" font-size="16" font-weight="400" fill="#fff">中二病</text>
<text transform="translate(143.43,356.35) scale(0.9696,0.8667)" font-size="16" font-weight="400" fill="#fff">火の鳥</text>
<text transform="translate(117.99,294.34) scale(1.0087,0.8727)" font-size="16" font-weight="400" fill="#FF69B4">男の娘</text>
<text transform="translate(98.82,149.95) scale(0.9821,0.9091)" font-size="16" font-weight="400" fill="#FF69B4">初日犠牲者</text>
<text transform="translate(98.63,221.66) scale(0.8726,0.9097)" font-size="16" font-weight="400" fill="#fff">ヤンデレ</text>
<text transform="translate(38.00,422.97) scale(0.9333,0.8121)" font-size="16" font-weight="400" fill="#fff">麻呂</text>
</svg></body></html>
